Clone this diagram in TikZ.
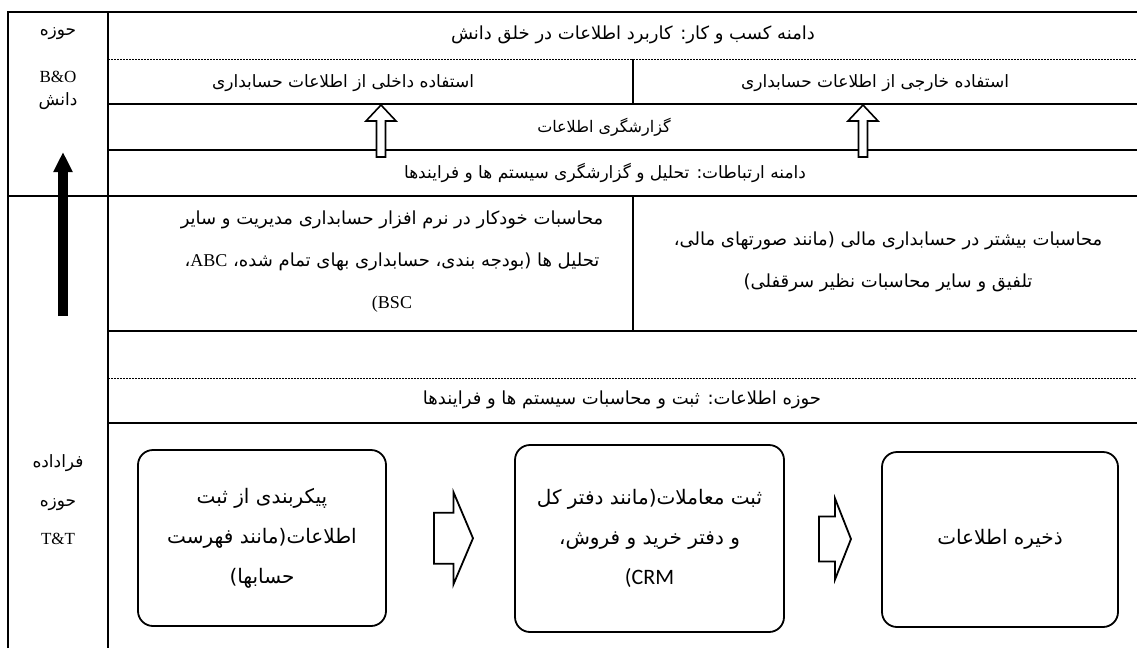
\documentclass[tikz,border=0pt]{standalone}
\usepackage{fontspec}
\setmainfont{Liberation Serif}
\newfontfamily\farsi[Script=Arabic]{DejaVu Sans}
\newfontfamily\calib{Carlito}
\usetikzlibrary{arrows.meta,calc,positioning}
\TeXXeTstate=1
\newcommand{\fa}[1]{{\farsi\beginR #1\endR}}
\tikzset{
  rule/.style={line width=1.5pt},
  thinrule/.style={line width=0.6pt, dash pattern=on 2pt off 1pt},
  cell/.style={inner sep=0pt, align=center, font=\fontsize{18}{42}\selectfont},
  smallcell/.style={cell, font=\fontsize{17}{20}\selectfont},
  side/.style={inner sep=0pt, align=center, font=\fontsize{17}{38.5}\selectfont},
  stepbox/.style={draw, line width=1.8pt, rounded corners=15pt, align=center,
    inner sep=0pt, font=\fontsize{20}{40}\selectfont},
  hollowup/.pic={
    \draw[line width=1.6pt, fill=white] (-4.5,0) -- (-4.5,-36) -- (-15,-36) -- (0,-52)
      -- (15,-36) -- (4.5,-36) -- (4.5,0) -- cycle;
  },
  blockright/.pic={
    \draw[line width=1.8pt, fill=white] (-19.5,-25.5) -- (0,-25.5) -- (0,-46) -- (19.5,0)
      -- (0,46) -- (0,25.5) -- (-19.5,25.5) -- cycle;
  }
}

\begin{document}
\begin{tikzpicture}[x=1pt, y=-1pt]
    \useasboundingbox (0,0) rectangle (1137,648);
    \draw[rule] (8,648) -- (8,12) -- (1137,12);
    \draw[rule] (108,12) -- (108,648);
    \draw[thinrule] (108,59) -- (1137,59);
    \foreach \y in {104,150,331,423}
        \draw[rule] (108,\y) -- (1137,\y);
    \draw[rule] (8,196) -- (1137,196);
    \draw[thinrule] (108,378) -- (1137,378);
    \draw[rule] (633,59) -- (633,104) (633,196) -- (633,331);

    \node[side] (kbtop) at (58,34) {\fa{حوزه}};
    \node[side] (kbmid) at (58,77) {B\&O};
    \node[side] (kbbot) at (58,101) {\fa{دانش}};
    \node[side] (ttside) at (58,500) {\fa{فراداده}\\\fa{حوزه}\\T\&T};

    \node[cell] (domain) at (633,35) {\fa{دامنه کسب و کار: کاربرد اطلاعات در خلق دانش}};
    \node[smallcell] (inneruse) at (343,83) {\fa{استفاده داخلی از اطلاعات حسابداری}};
    \node[smallcell] (outeruse) at (875,83) {\fa{استفاده خارجی از اطلاعات حسابداری}};
    \node[cell, font=\fontsize{16}{20}\selectfont] (reporting) at (604,127) {\fa{گزارشگری اطلاعات}};
    \node[cell, font=\fontsize{17}{20}\selectfont] (commdomain) at (605,173)
        {\fa{دامنه ارتباطات: تحلیل و گزارشگری سیستم ها و فرایندها}};
    \node[cell] (mgmtcalc) at (392,262) {\fa{محاسبات خودکار در نرم افزار حسابداری مدیریت و سایر}\\
        \fa{تحلیل ها (بودجه بندی، حسابداری بهای تمام شده، {\rmfamily ABC}،}\\(BSC};
    \node[cell] (fincalc) at (888,262) {\fa{محاسبات بیشتر در حسابداری مالی (مانند صورتهای مالی،}\\
        \fa{تلفیق و سایر محاسبات نظیر سرقفلی)}};
    \node[cell] (infodomain) at (622,400) {\fa{حوزه اطلاعات: ثبت و محاسبات سیستم ها و فرایندها}};

    \node[stepbox, minimum width=248pt, minimum height=176pt] (configbox) at (262,538)
        {\fa{پیکربندی از ثبت}\\\fa{اطلاعات(مانند فهرست}\\\fa{حسابها)}};
    \node[stepbox, minimum width=269pt, minimum height=187pt] (recordbox) at (649.5,538.5)
        {\fa{ثبت معاملات(مانند دفتر کل}\\\fa{و دفتر خرید و فروش،}\\{\calib\fontsize{22}{40}\selectfont (CRM}};
    \node[stepbox, minimum width=236pt, minimum height=175pt] (storebox) at (1000,539.5)
        {\fa{ذخیره اطلاعات}};

    \pic at ($(configbox.east)!.5!(recordbox.west)+(3,0)$) {blockright};
    \pic[xscale=0.82, yscale=0.88] at ($(recordbox.east)!.5!(storebox.west)+(2,0)$) {blockright};

    \pic at (381,157) {hollowup};
    \pic at (863,157) {hollowup};

    \coordinate (blackfoot) at (63,316);
    \coordinate (blacktip) at (63,152);
    \draw[line width=10pt, -{Triangle[width=18pt,length=20pt]}] (blackfoot) -- (blacktip);
\end{tikzpicture}
\end{document}
